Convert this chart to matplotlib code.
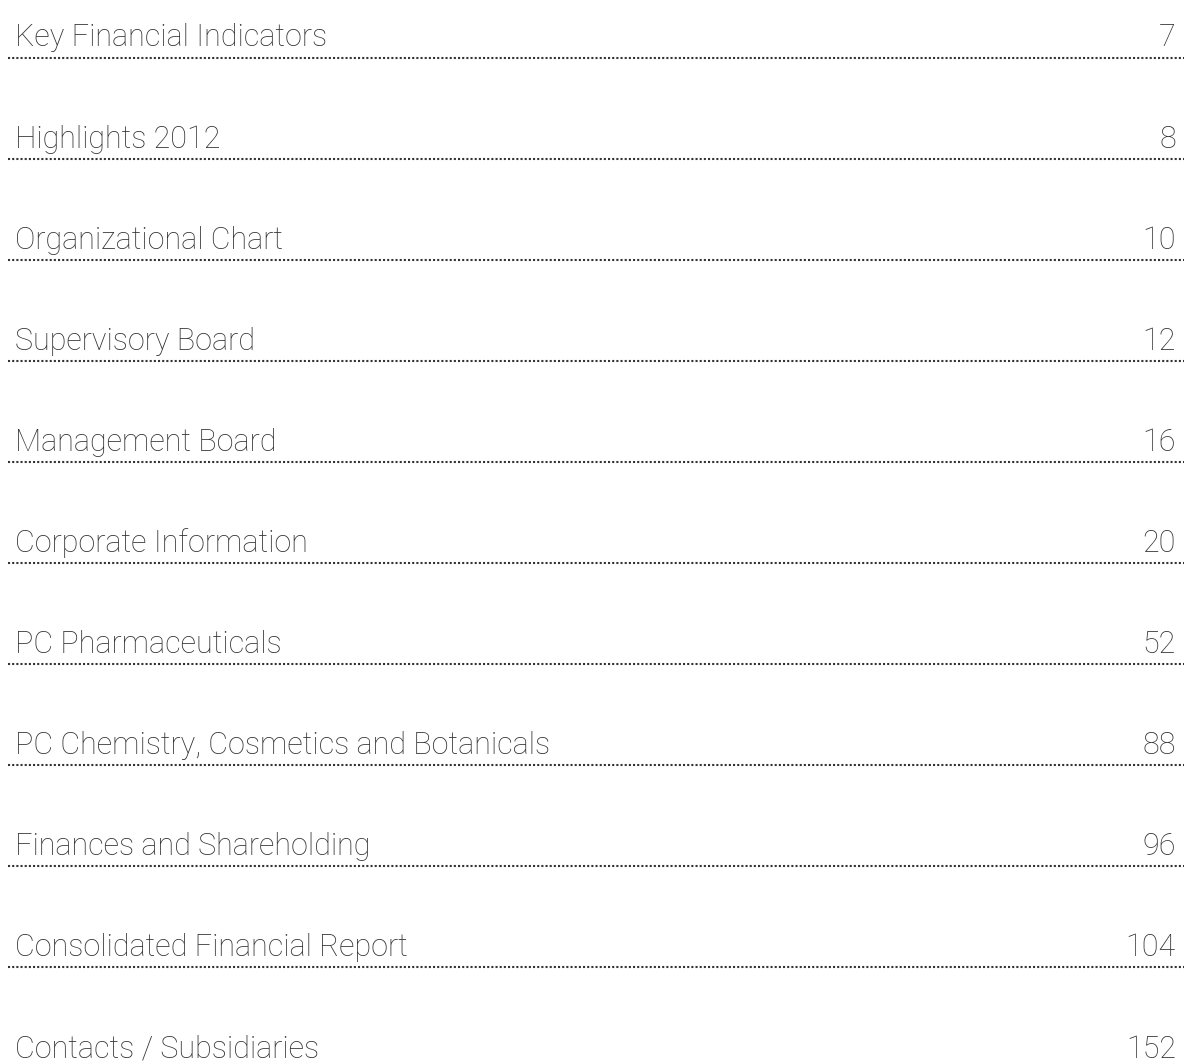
import matplotlib
matplotlib.use("Agg")
import matplotlib.pyplot as plt

titles = [
    "Key Financial Indicators",
    "Highlights 2012",
    "Organizational Chart",
    "Supervisory Board",
    "Management Board",
    "Corporate Information",
    "PC Pharmaceuticals",
    "PC Chemistry, Cosmetics and Botanicals",
    "Finances and Shareholding",
    "Consolidated Financial Report",
    "Contacts / Subsidiaries",
]
pages = ["7", "8", "10", "12", "16", "20", "52", "88", "96", "104", "152"]

W, H = 1184, 1064
fig = plt.figure(figsize=(W / 100, H / 100), dpi=100)
ax = fig.add_axes([0, 0, 1, 1])
ax.set_xlim(0, W)
ax.set_ylim(H, 0)
ax.axis("off")

color = "#333333"
step = 101.1
for i, (t, p) in enumerate(zip(titles, pages)):
    line_y = 57.5 + step * i
    base_y = line_y - 11
    ax.text(15, base_y, t, fontsize=22, family="Roboto", fontweight="light",
            color=color, ha="left", va="baseline")
    ax.text(1176, base_y, p, fontsize=22, family="Roboto", fontweight="light",
            color=color, ha="right", va="baseline")
    # dotted leader line under each entry
    ax.plot([8, W], [line_y, line_y], color=color, linewidth=1.5,
            linestyle=(0, (1, 1.0)), dash_capstyle="butt")

fig.savefig("out.png", dpi=100)
